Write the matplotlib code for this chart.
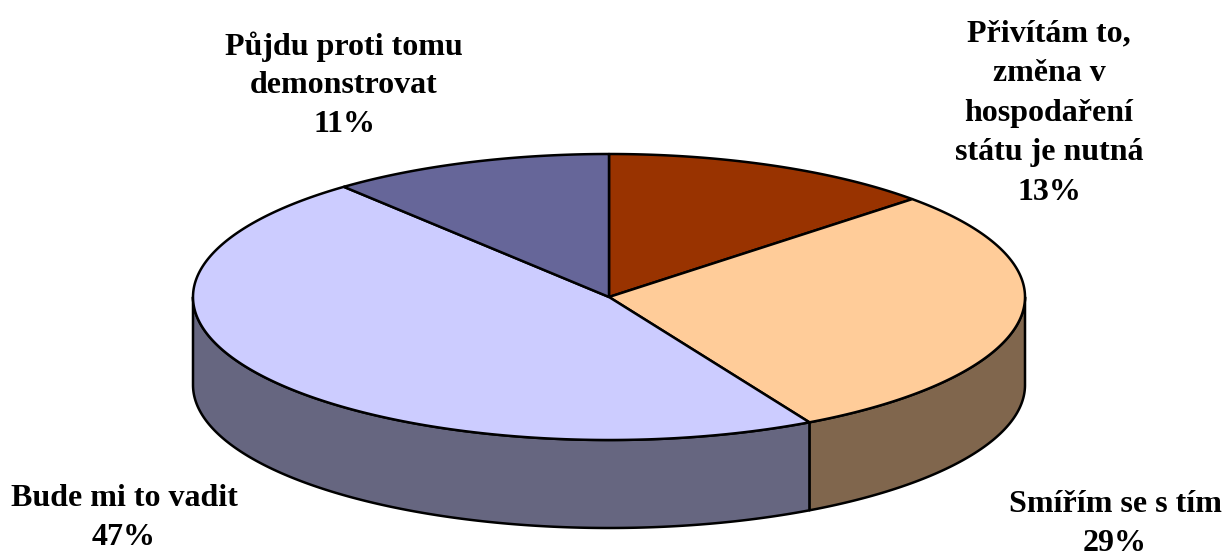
import numpy as np
import matplotlib
matplotlib.use("Agg")
import matplotlib.pyplot as plt
from matplotlib.patches import Polygon

labels = ["Přivítám to,\nzměna v\nhospodaření\nstátu je nutná", "Smířím se s tím", "Bude mi to vadit", "Půjdu proti tomu\ndemonstrovat"]
values = [13, 29, 47, 11]
top_colors = ["#993300", "#FFCC99", "#CCCCFF", "#666699"]
side_colors = ["#4D1A00", "#80664D", "#666680", "#4D4D4D"]
label_xy = [(1049, 113), (1115, 524), (124, 518), (344, 85)]
label_spacing = [1.48, 1.42, 1.42, 1.42]

W, H = 1223, 551
cx, cy, rx, ry, depth = 609, 297, 416, 143, 88
EDGE = 1.8

fig = plt.figure(figsize=(W / 100, H / 100), dpi=100)
ax = fig.add_axes([0, 0, 1, 1])
ax.set_xlim(0, W)
ax.set_ylim(H, 0)
ax.axis("off")


def pt(theta):
    return cx + rx * np.sin(theta), cy - ry * np.cos(theta)


fractions = np.array(values) / sum(values)
edges = np.concatenate([[0], np.cumsum(fractions)]) * 2 * np.pi

# side walls: only the front half of the rim is visible
for i in range(len(values)):
    a0, a1 = max(edges[i], np.pi / 2), min(edges[i + 1], 3 * np.pi / 2)
    if a1 <= a0:
        continue
    t = np.linspace(a0, a1, 200)
    x, y = pt(t)
    verts = np.column_stack([np.r_[x, x[::-1]], np.r_[y, y[::-1] + depth]])
    ax.add_patch(Polygon(verts, closed=True, facecolor=side_colors[i],
                         edgecolor="black", lw=EDGE, joinstyle="round", zorder=2))

# top face
for i in range(len(values)):
    t = np.linspace(edges[i], edges[i + 1], 300)
    x, y = pt(t)
    verts = np.column_stack([np.r_[cx, x], np.r_[cy, y]])
    ax.add_patch(Polygon(verts, closed=True, facecolor=top_colors[i],
                         edgecolor="black", lw=EDGE, joinstyle="round", zorder=3))

for lab, v, (lx, ly), sp in zip(labels, values, label_xy, label_spacing):
    ax.text(lx, ly, f"{lab}\n{v}%", ha="center", va="center", family="Liberation Serif",
            fontweight="bold", fontsize=23, linespacing=sp, color="black", zorder=5)

fig.savefig("out.png", dpi=100, facecolor="white")
